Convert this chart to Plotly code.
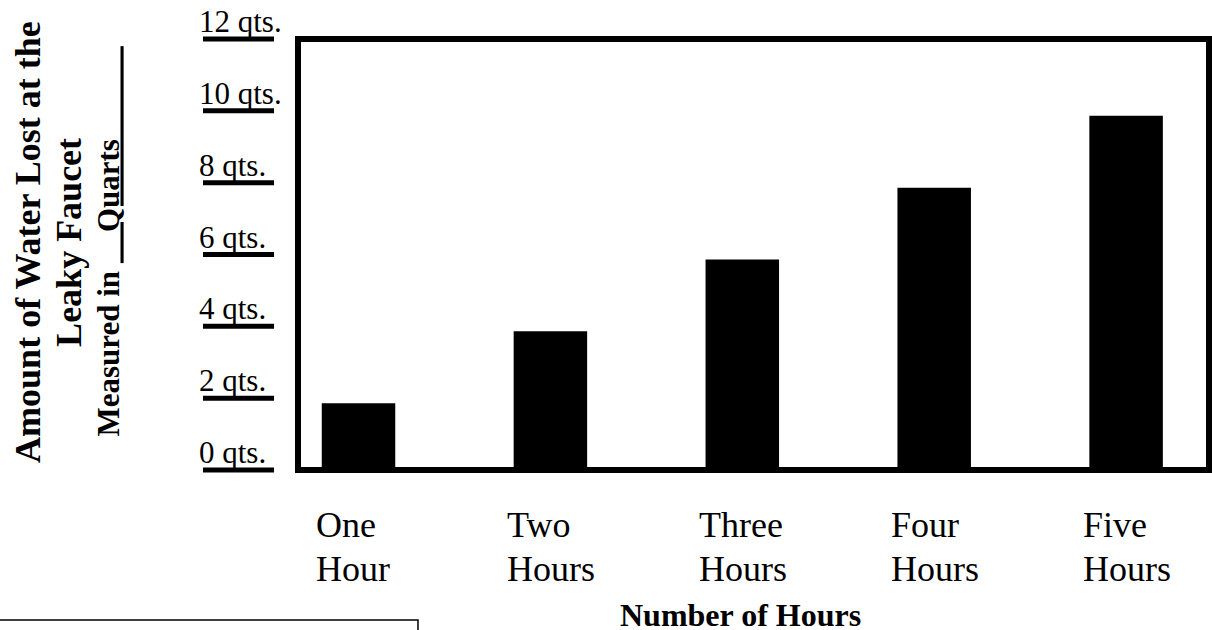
import plotly.graph_objects as go

# ---- data ----
categories = ["One Hour", "Two Hours", "Three Hours", "Four Hours", "Five Hours"]
quarts_lost = [2, 4, 6, 8, 10]
y_tick_values = [0, 2, 4, 6, 8, 10, 12]
y_tick_labels = ["0 qts.", "2 qts.", "4 qts.", "6 qts.", "8 qts.", "10 qts.", "12 qts."]
x_title = "Number of Hours"
y_title_lines = ["Amount of Water Lost at the", "Leaky Faucet"]
y_unit = "Quarts"

SERIF = "Liberation Serif, Times New Roman, serif"
Y_MAX = 12

fig = go.Figure()
fig.add_trace(go.Bar(
    x=categories, y=quarts_lost, base=-0.14, width=0.383,
    marker=dict(color="black", line=dict(width=0)),
    showlegend=False, hoverinfo="skip",
))

fig.update_layout(
    width=1212, height=630,
    margin=dict(l=298, r=3, t=39, b=160),
    paper_bgcolor="white", plot_bgcolor="white",
    xaxis=dict(range=[-0.3153, 4.432], showticklabels=False, showgrid=False,
               zeroline=False, showline=False, ticks=""),
    yaxis=dict(range=[0, Y_MAX], showticklabels=False, showgrid=False,
               zeroline=False, showline=False, ticks=""),
    font=dict(family=SERIF, color="black"),
)

shapes = []
# thick frame around plot area
shapes.append(dict(type="rect", xref="paper", yref="paper", x0=0, x1=1, y0=0, y1=1,
                   line=dict(color="black", width=6), layer="above"))
annotations = []
# y tick labels with underlines
for v, lab in zip(y_tick_values, y_tick_labels):
    shapes.append(dict(type="line", xref="paper", yref="paper",
                       x0=-0.1043, x1=-0.0263, y0=v / Y_MAX, y1=v / Y_MAX,
                       line=dict(color="black", width=5)))
    annotations.append(dict(text=lab, xref="paper", yref="y", x=-0.1114, y=v,
                            xanchor="left", yanchor="bottom", yshift=-2,
                            showarrow=False, font=dict(size=31, family=SERIF)))
# x category labels (two lines, left aligned near bar left edge)
for c in categories:
    w1, w2 = c.split(" ")
    annotations.append(dict(text=w1, xref="x", yref="paper", x=c, y=-0.0756,
                            xanchor="left", yanchor="top", xshift=-45,
                            showarrow=False, font=dict(size=36, family=SERIF)))
    annotations.append(dict(text=w2, xref="x", yref="paper", x=c, y=-0.1784,
                            xanchor="left", yanchor="top", xshift=-45,
                            showarrow=False, font=dict(size=36, family=SERIF)))
# x title
annotations.append(dict(text="<b>" + x_title + "</b>", xref="paper", yref="paper",
                        x=0.4852, y=-0.2889, xanchor="center", yanchor="top",
                        showarrow=False, font=dict(size=32, family=SERIF)))
# y title lines (rotated)
annotations.append(dict(text="<b>" + y_title_lines[0] + "</b>", xref="paper", yref="paper",
                        x=-0.2965, y=0.529, xanchor="center", yanchor="middle",
                        textangle=-90, showarrow=False, font=dict(size=36, family=SERIF)))
annotations.append(dict(text="<b>" + y_title_lines[1] + "</b>", xref="paper", yref="paper",
                        x=-0.2515, y=0.529, xanchor="center", yanchor="middle",
                        textangle=-90, showarrow=False, font=dict(size=36, family=SERIF)))
nb = "\u00a0"
line3 = ("<b>Measured in " + '<span style="text-decoration:underline">'
         + nb * 4 + y_unit + nb * 12 + "</span></b>")
annotations.append(dict(text=line3, xref="paper", yref="paper",
                        x=-0.2091, y=0.529, xanchor="center", yanchor="middle",
                        textangle=-90, showarrow=False, font=dict(size=31, family=SERIF)))
# partial box at bottom-left
shapes.append(dict(type="rect", xref="paper", yref="paper",
                   x0=-0.3326, x1=0.1317, y0=-0.348, y1=-0.394,
                   line=dict(color="black", width=1.5)))

fig.update_layout(shapes=shapes, annotations=annotations)
fig.write_html("out.html",
               config={"displayModeBar": False},
               post_script="document.body.style.margin='0';document.body.style.overflow='hidden';")
